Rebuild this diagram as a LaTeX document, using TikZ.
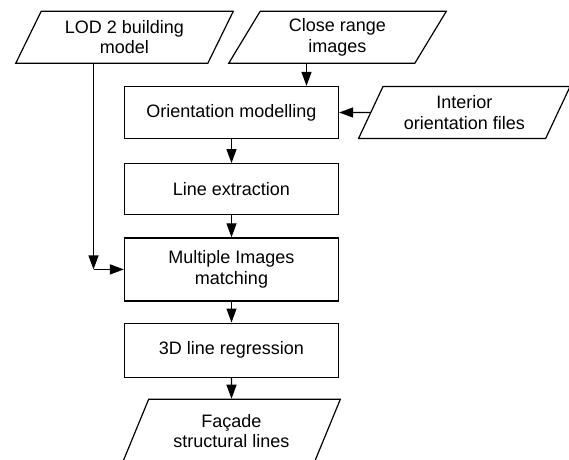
\documentclass[tikz,border=0pt]{standalone}
\usepackage{fontspec}
\setmainfont{Liberation Sans}
\usetikzlibrary{arrows.meta}
\usetikzlibrary{positioning}
\usetikzlibrary{shapes.geometric}

\begin{document}
\begin{tikzpicture}[
    x=1pt, y=1pt,
    font=\fontsize{18}{20.5}\selectfont,
    line width=1.2pt,
    >={Triangle[length=14pt,width=10pt]},
    procbox/.style={draw, rectangle, minimum width=214pt,
        minimum height=52pt, align=center, inner sep=2pt},
    databox/.style={draw, trapezium, trapezium left angle=63.5,
        trapezium right angle=116.5, trapezium stretches=true,
        minimum width=218pt, minimum height=52pt, align=center,
        inner sep=2pt}
  ]
  \useasboundingbox (0,0) rectangle (569,-459);
  \node[procbox] (orient-mod) at (231.5,-112.5) {Orientation modelling};
  \node[databox, above=22pt of orient-mod, xshift=-107pt] (lod-model)
    {LOD 2 building\\model};
  \node[databox, above=22pt of orient-mod, xshift=106pt] (close-img)
    {Close range\\images};
  \node[databox, right=31pt of orient-mod, minimum width=212pt] (int-orient)
    {Interior\\orientation files};
  \node[procbox, below=24pt of orient-mod, minimum height=51pt] (line-ext)
    {Line extraction};
  \node[procbox, below=22pt of line-ext, minimum height=63pt] (multi-match)
    {Multiple Images\\matching};
  \node[procbox, below=21pt of multi-match, minimum height=54pt] (line-reg)
    {3D line regression};
  \node[databox, below=21pt of line-reg, minimum height=63pt] (facade-lines)
    {Façade\\structural lines};

  \coordinate (lod-bend) at ([xshift=-31pt]lod-model.south |- multi-match.west);

  \draw[->] ([xshift=-31pt]close-img.south)
    -- ([xshift=-31pt]close-img.south |- orient-mod.north);
  \draw[->] (int-orient.left side) -- (orient-mod.east);
  \draw[->] (orient-mod) -- (line-ext);
  \draw[->] (line-ext) -- (multi-match);
  \draw[->] (multi-match) -- (line-reg);
  \draw[->] (line-reg) -- (facade-lines);
  \draw[->] ([xshift=-31pt]lod-model.south) -- (lod-bend);
  \draw[->] (lod-bend) -- (multi-match.west);
\end{tikzpicture}
\end{document}
